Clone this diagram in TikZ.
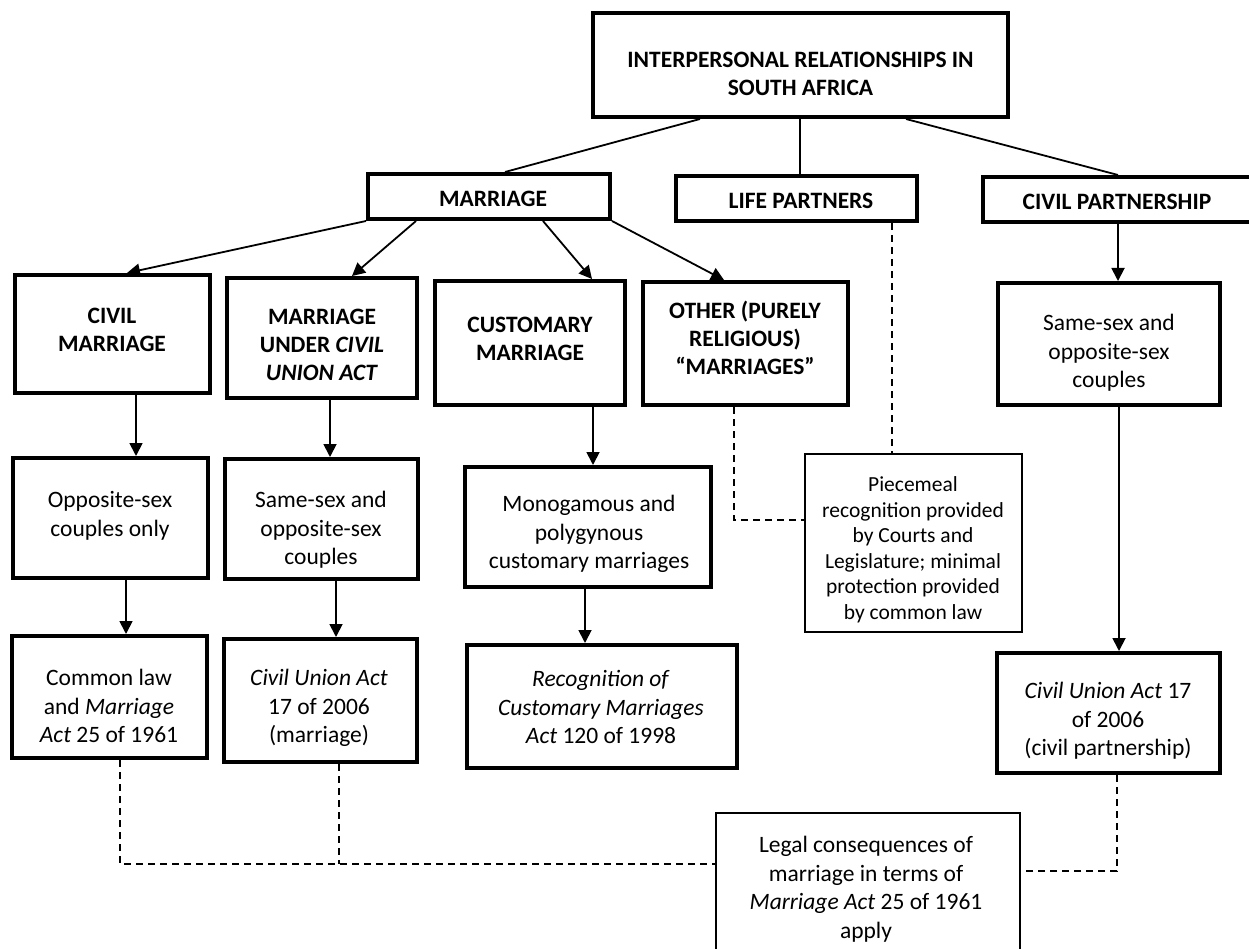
\documentclass[tikz,border=0pt]{standalone}
\usepackage{fontspec}
\setmainfont{Carlito}
\usetikzlibrary{fit,arrows.meta,calc}

\begin{document}
\begin{tikzpicture}[x=1pt,y=-1pt,
  every node/.style={font=\fontsize{23.5}{28.5}\selectfont},
  heavy/.style={draw, line width=4pt, inner sep=0pt},
  light/.style={draw, line width=2.2pt, inner sep=0pt},
  txt/.style={align=center, inner sep=0pt},
  caps/.style={txt, font=\fontsize{23.5}{28}\selectfont\bfseries},
  small/.style={txt, font=\fontsize{21.5}{25.5}\selectfont},
  link/.style={line width=1.8pt},
  arr/.style={link, -{Triangle[length=13pt,width=13pt]}},
  dashlink/.style={line width=1.8pt, dash pattern=on 7pt off 5pt},
]
\useasboundingbox (0,0) rectangle (1249,949);
\fill[white] (0,0) rectangle (1249,949);
\clip (0,0) rectangle (1249,949);

% ---------- boxes ----------
\node[heavy, fit={(593,13) (1008,117)}]  (top)   {};
\node[heavy, fit={(368,174) (610,219)}]  (marr)  {};
\node[heavy, fit={(676,176) (917,221)}]  (life)  {};
\node[heavy, fit={(983,177) (1262,222)}] (cp)    {};
\node[heavy, fit={(15,275) (210,393)}]   (civm)  {};
\node[heavy, fit={(227,278) (417,398)}]  (mucua) {};
\node[heavy, fit={(435,281) (625,405)}]  (cust)  {};
\node[heavy, fit={(643,282) (848,405)}]  (other) {};
\node[heavy, fit={(998,283) (1220,405)}] (cpss)  {};
\node[heavy, fit={(13,458) (208,578)}]   (opp)   {};
\node[heavy, fit={(225,459) (418,579)}]  (ssoc)  {};
\node[heavy, fit={(465,467) (711,587)}]  (mono)  {};
\node[light, fit={(805,454) (1022,632)}] (piece) {};
\node[heavy, fit={(12,636) (207,758)}]   (comm)  {};
\node[heavy, fit={(224,639) (417,762)}]  (cua)   {};
\node[heavy, fit={(467,645) (737,768)}]  (recog) {};
\node[heavy, fit={(997,653) (1220,773)}] (cuacp) {};
\node[light, fit={(716,813) (1020,965)}] (legal) {};

% ---------- texts ----------
\node[caps] (topT)   at (800.5,74) {INTERPERSONAL RELATIONSHIPS IN\\SOUTH AFRICA};
\node[caps] (marrT)  at (493,199)  {MARRIAGE};
\node[caps] (lifeT)  at (801,201)  {LIFE PARTNERS};
\node[caps] (cpT)    at (1117,202) {CIVIL PARTNERSHIP};
\node[caps] (civmT)  at (112,330)  {CIVIL\\MARRIAGE};
\node[caps] (mucuaT) at (322,345)  {MARRIAGE\\UNDER \textit{CIVIL}\\\textit{UNION ACT}};
\node[caps] (custT)  at (530,339)  {CUSTOMARY\\MARRIAGE};
\node[caps] (otherT) at (745,338)  {OTHER (PURELY\\RELIGIOUS)\\“MARRIAGES”};
\node[txt]  (cpssT)  at (1109,353) {Same-sex and\\opposite-sex\\couples};
\node[txt]  (oppT)   at (110,516)  {Opposite-sex\\couples only};
\node[txt]  (ssocT)  at (321,530)  {Same-sex and\\opposite-sex\\couples};
\node[txt]  (monoT)  at (589,534)  {Monogamous and\\polygynous\\customary marriages};
\node[small] (pieceT) at (913,550) {Piecemeal\\recognition provided\\by Courts and\\Legislature; minimal\\protection provided\\by common law};
\node[txt]  (commT)  at (109,706)  {Common law\\and \textit{Marriage}\\\textit{Act} 25 of 1961};
\node[txt]  (cuaT)   at (319,708)  {\textit{Civil Union Act}\\17 of 2006\\(marriage)};
\node[txt]  (recogT) at (601,707)  {\textit{Recognition of}\\\textit{Customary Marriages}\\\textit{Act} 120 of 1998};
\node[txt]  (cuacpT) at (1108,721) {\textit{Civil Union Act} 17\\of 2006\\(civil partnership)};
\node[txt]  (legalT) at (866,889)  {Legal consequences of\\marriage in terms of\\\textit{Marriage Act} 25 of 1961\\apply};

% ---------- guide columns and rows for the connectors ----------
\coordinate (vI) at (800,0);
\coordinate (vA) at (136,0);
\coordinate (vB) at (330,0);
\coordinate (vC) at (593,0);
\coordinate (vD) at (126,0);
\coordinate (vE) at (336,0);
\coordinate (vF) at (585,0);
\coordinate (vG) at (1118,0);
\coordinate (vH) at (1119,0);
\coordinate (dA) at (734,0);
\coordinate (dB) at (892,0);
\coordinate (dC) at (120,0);
\coordinate (dD) at (339,0);
\coordinate (dE) at (1117,0);
\coordinate (hA) at (0,520);
\coordinate (hB) at (0,864);
\coordinate (hC) at (0,871);

% ---------- first level ----------
\draw[link] ([xshift=-100.5pt]top.south) -- ([xshift=16pt]marr.north);
\draw[link] (top.south -| vI) -- (life.north -| vI);
\draw[link] ([xshift=105.5pt]top.south) -- ([xshift=-4.5pt]cp.north);

% ---------- marriage branches ----------
\draw[arr] (marr.south west) -- ([xshift=14.5pt]civm.north);
\draw[arr] ([xshift=-73pt]marr.south) -- ([xshift=30pt]mucua.north);
\draw[arr] ([xshift=54pt]marr.south) -- ([xshift=62pt]cust.north);
\draw[arr] (marr.south east) -- ([xshift=-21.5pt]other.north);

% ---------- vertical chains ----------
\draw[arr] (civm.south -| vA) -- (opp.north -| vA);
\draw[arr] (mucua.south -| vB) -- (ssoc.north -| vB);
\draw[arr] (cust.south -| vC) -- (mono.north -| vC);
\draw[arr] (opp.south -| vD) -- (comm.north -| vD);
\draw[arr] (ssoc.south -| vE) -- (cua.north -| vE);
\draw[arr] (mono.south -| vF) -- (recog.north -| vF);
\draw[arr] (cp.south -| vG) -- (cpss.north -| vG);
\draw[arr] (cpss.south -| vH) -- (cuacp.north -| vH);

% ---------- dashed links ----------
\draw[dashlink] (other.south -| dA) |- (piece.west |- hA);
\draw[dashlink] (life.south -| dB) -- (piece.north -| dB);
\draw[dashlink] (comm.south -| dC) |- (legal.west |- hB);
\draw[dashlink] (cua.south -| dD) -- (dD |- hB);
\draw[dashlink] (cuacp.south -| dE) |- (legal.east |- hC);
\end{tikzpicture}
\end{document}
